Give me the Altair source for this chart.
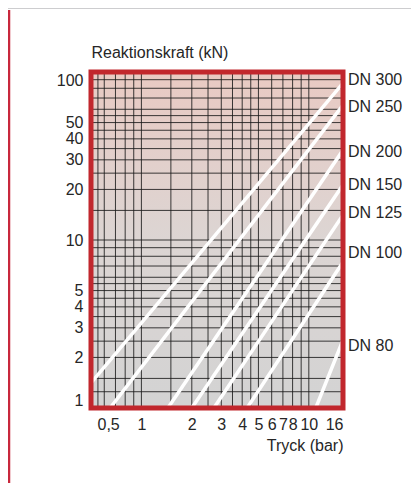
import altair as alt
import pandas as pd

# --- data ---
series = ["DN 300", "DN 250", "DN 200", "DN 150", "DN 125", "DN 100", "DN 80"]
p_start = [0.5, 0.65, 1.44, 2.0, 2.71, 4.28, 11.0]
f_start = [1.41, 1.0, 1.0, 1.0, 1.0, 1.0, 1.0]
p_end = [16, 16, 16, 16, 16, 16, 16]
f_end = [86.0, 63.6, 34.3, 21.3, 14.1, 7.4, 2.54]
label_f = [89.6, 61.9, 33.4, 21.3, 14.5, 8.37, 2.34]

x_ticks = [0.5, 1, 2, 3, 4, 5, 6, 7, 8, 9, 10, 16]
y_ticks = [1, 2, 3, 4, 5, 10, 20, 30, 40, 50, 100]
x_grid = [0.55, 0.6, 0.7, 0.8, 0.9, 1, 1.5, 2, 2.5, 3, 3.5, 4, 4.5, 5, 6, 7, 8, 9, 10]
y_grid = [1.25, 1.5, 2, 2.5, 3, 3.5, 4, 4.5, 5, 5.5, 6, 7, 8, 9, 10, 15, 20, 25,
          30, 35, 40, 45, 50, 55, 60, 70, 80, 90]

W, H = 252, 336
FONT = "Liberation Sans"
FS = 16
TXT = "#262626"
RED = "#c1272d"

rows = []
for s, ps, fs, pe, fe in zip(series, p_start, f_start, p_end, f_end):
    rows.append({"s": s, "p": ps, "f": fs})
    rows.append({"s": s, "p": pe, "f": fe})
lines_df = pd.DataFrame(rows)
labels_df = pd.DataFrame({"s": series, "f": label_f})
xg_df = pd.DataFrame({"v": x_grid})
yg_df = pd.DataFrame({"v": y_grid})

xscale = alt.Scale(type="log", domain=[0.5, 16], nice=False)
yscale = alt.Scale(type="log", domain=[1, 100], nice=False)

xaxis = alt.Axis(
    values=x_ticks, grid=False, domain=False, ticks=False,
    labelExpr="replace(toString(datum.value), '.', ',')",
    labelFont=FONT, labelFontSize=FS, labelColor=TXT, labelPadding=8,
    labelFlush=True,
    labelOffset={"condition": {"test": "datum.value == 0.5", "value": 6}, "value": 0},
    title="Tryck (bar)", titleFont=FONT, titleFontSize=FS, titleFontWeight="normal",
    titleColor=TXT, titleAnchor="end", titlePadding=5,
)
yaxis = alt.Axis(
    values=y_ticks, grid=False, domain=False, ticks=False,
    labelFont=FONT, labelFontSize=FS, labelColor=TXT, labelPadding=8,
    labelFlush=True,
    title="Reaktionskraft (kN)", titleFont=FONT, titleFontSize=FS,
    titleFontWeight="normal", titleColor=TXT, titleAngle=0,
    titleX=0, titleY=-15, titleAlign="left", titleBaseline="alphabetic",
)

gradient = alt.LinearGradient(
    gradient="linear", x1=0, x2=0, y1=0, y2=1,
    stops=[alt.GradientStop(color="#e9cac3", offset=0),
           alt.GradientStop(color="#dcd5d3", offset=0.5),
           alt.GradientStop(color="#d3d3d3", offset=1)],
)

bg = alt.Chart(pd.DataFrame({"a": [0]})).mark_rect(fill=gradient).encode(
    x=alt.value(0), x2=alt.value(W), y=alt.value(0), y2=alt.value(H)
)

xgrid = alt.Chart(xg_df).mark_rule(color="#1a1a1a", strokeWidth=1, opacity=0.85).encode(
    x=alt.X("v:Q", scale=xscale, axis=xaxis)
)
ygrid = alt.Chart(yg_df).mark_rule(color="#1a1a1a", strokeWidth=1, opacity=0.85).encode(
    y=alt.Y("v:Q", scale=yscale, axis=yaxis)
)

lines = alt.Chart(lines_df).mark_line(color="white", strokeWidth=3.5, clip=True).encode(
    x=alt.X("p:Q", scale=xscale),
    y=alt.Y("f:Q", scale=yscale),
    detail="s:N",
)

frame = alt.Chart(pd.DataFrame({"a": [0]})).mark_rect(
    fill=None, stroke=RED, strokeWidth=5
).encode(x=alt.value(0), x2=alt.value(W), y=alt.value(0), y2=alt.value(H))

labels = alt.Chart(labels_df).mark_text(
    align="left", baseline="middle", font=FONT, fontSize=FS, color=TXT
).encode(x=alt.value(W + 5), y=alt.Y("f:Q", scale=yscale), text="s:N")

side = alt.Chart(pd.DataFrame({"a": [0]})).mark_rule(color="#c8283c", strokeWidth=2.5).encode(
    x=alt.value(-82), y=alt.value(-62), y2=alt.value(420)
)
band = alt.Chart(pd.DataFrame({"a": [0]})).mark_rect(color="#cdcdcf").encode(
    x=alt.value(-83), x2=alt.value(322), y=alt.value(-64), y2=alt.value(-63)
)

chart = alt.layer(bg, xgrid, ygrid, lines, frame, labels, side, band).properties(
    width=W, height=H,
    autosize=alt.AutoSizeParams(type="none"),
    padding={"left": 83, "top": 64, "right": 68, "bottom": 75},
    background="white",
).configure_view(stroke=None)

chart.save("out.html", embed_options={"renderer": "svg", "actions": False})
